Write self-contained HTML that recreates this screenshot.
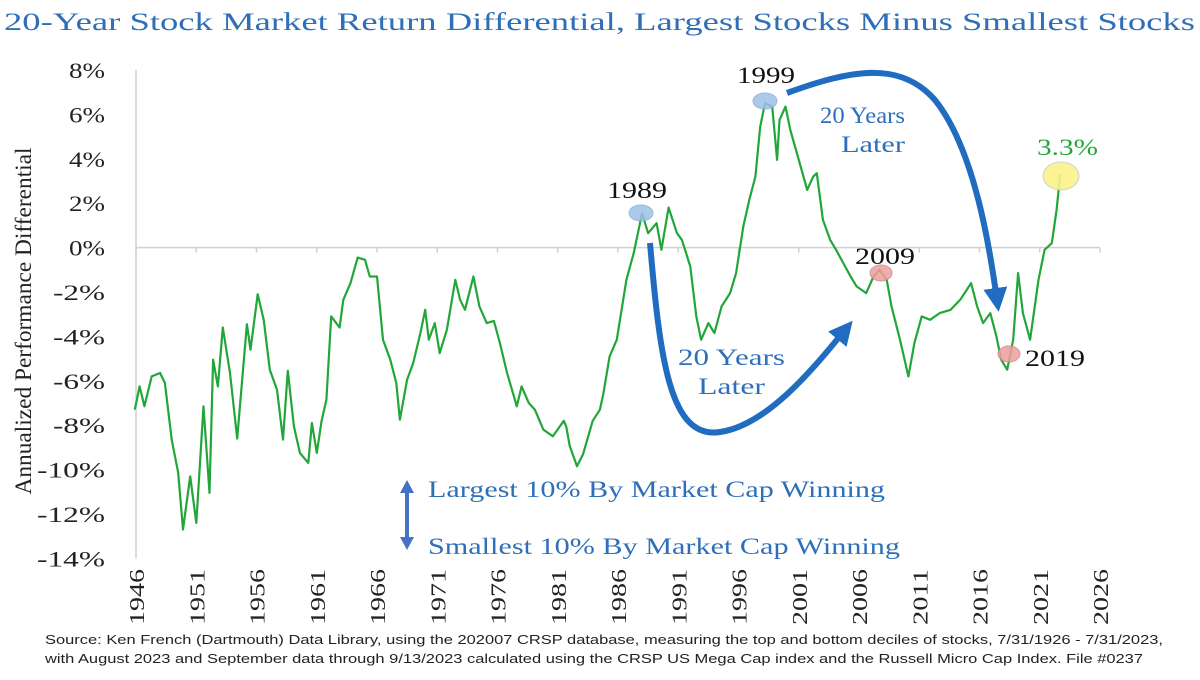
<!DOCTYPE html>
<html><head><meta charset="utf-8"><style>
body{margin:0;background:#fff;width:1200px;height:675px;overflow:hidden}
svg text{font-family:"Liberation Serif",serif}
</style></head><body>
<svg id="c" width="1200" height="675" viewBox="0 0 1200 675">
<text x="4" y="30" font-size="25" fill="#2E6FB8" textLength="1191" lengthAdjust="spacingAndGlyphs">20-Year Stock Market Return Differential, Largest Stocks Minus Smallest Stocks</text>
<text transform="translate(31,321) rotate(-90)" text-anchor="middle" font-size="23" fill="#222" textLength="347" lengthAdjust="spacingAndGlyphs">Annualized Performance Differential</text>
<g id="axes"></g>
<g id="series"></g>
<text x="45" y="644" font-size="12.5" fill="#222" textLength="1118" lengthAdjust="spacingAndGlyphs" style="font-family:'Liberation Sans',sans-serif">Source: Ken French (Dartmouth) Data Library, using the 202007 CRSP database, measuring the top and bottom deciles of stocks, 7/31/1926 - 7/31/2023,</text>
<text x="45" y="663" font-size="12.5" fill="#222" textLength="1098" lengthAdjust="spacingAndGlyphs" style="font-family:'Liberation Sans',sans-serif">with August 2023 and September data through 9/13/2023 calculated using the CRSP US Mega Cap index and the Russell Micro Cap Index. File #0237</text>
</svg>
<script>
const years=[1945.9,1946.3,1946.7,1947.3,1948.0,1948.4,1948.96,1949.5,1949.9,1950.5,1951.0,1951.6,1952.1,1952.4,1952.8,1953.2,1953.8,1954.4,1955.2,1955.5,1956.1,1956.6,1957.1,1957.7,1958.2,1958.6,1959.1,1959.6,1960.3,1960.6,1961.0,1961.4,1961.8,1962.2,1962.9,1963.2,1963.8,1964.4,1965.0,1965.4,1966.0,1966.5,1967.1,1967.6,1967.9,1968.5,1969.0,1969.6,1970.0,1970.3,1970.8,1971.2,1971.8,1972.5,1972.9,1973.3,1974.0,1974.5,1975.1,1975.7,1976.2,1976.8,1977.6,1978.0,1978.6,1979.1,1979.8,1980.6,1981.5,1981.7,1982.0,1982.6,1983.1,1983.9,1984.5,1984.8,1985.3,1985.9,1986.7,1987.3,1988.0,1988.5,1989.2,1989.6,1990.2,1990.9,1991.3,1992.0,1992.5,1992.9,1993.5,1994.0,1994.6,1995.3,1995.8,1996.4,1996.9,1997.4,1997.8,1998.2,1998.8,1999.2,1999.4,1999.9,2000.3,2001.0,2001.7,2002.2,2002.5,2003.0,2003.6,2004.1,2004.7,2005.3,2005.8,2006.6,2007.2,2007.7,2008.3,2008.7,2009.4,2010.1,2010.6,2011.2,2011.9,2012.7,2013.6,2014.4,2015.3,2015.8,2016.3,2016.9,2017.4,2017.8,2018.3,2018.8,2019.2,2019.6,2020.2,2020.9,2021.4,2022.0,2022.4,2022.7];
const diffs=[-7.3,-6.25,-7.15,-5.8,-5.65,-6.1,-8.65,-10.15,-12.7,-10.3,-12.4,-7.15,-11.05,-5.05,-6.25,-3.6,-5.65,-8.6,-3.45,-4.6,-2.1,-3.25,-5.5,-6.4,-8.65,-5.55,-8.05,-9.25,-9.7,-7.9,-9.25,-7.8,-6.85,-3.1,-3.6,-2.35,-1.6,-0.45,-0.55,-1.3,-1.3,-4.15,-5.05,-6.1,-7.75,-5.95,-5.2,-3.85,-2.8,-4.15,-3.4,-4.75,-3.7,-1.45,-2.35,-2.8,-1.3,-2.65,-3.4,-3.3,-4.3,-5.65,-7.15,-6.25,-7.0,-7.3,-8.2,-8.5,-7.8,-8.05,-8.95,-9.85,-9.3,-7.8,-7.3,-6.55,-4.9,-4.15,-1.45,-0.25,1.55,0.65,1.1,-0.1,1.8,0.65,0.35,-0.85,-3.1,-4.15,-3.4,-3.85,-2.65,-2.05,-1.15,0.95,2.15,3.2,5.45,6.5,6.35,3.95,5.75,6.35,5.3,3.95,2.6,3.2,3.35,1.25,0.35,-0.1,-0.7,-1.3,-1.75,-2.05,-1.3,-1.0,-1.45,-2.65,-4.15,-5.8,-4.3,-3.1,-3.25,-2.95,-2.8,-2.35,-1.6,-2.65,-3.4,-2.95,-4.0,-5.05,-5.5,-4.15,-1.15,-2.95,-4.15,-1.45,-0.1,0.2,1.7,3.3];
const yTicks=[8,6,4,2,0,-2,-4,-6,-8,-10,-12,-14];
const xTicks=[1946,1951,1956,1961,1966,1971,1976,1981,1986,1991,1996,2001,2006,2011,2016,2021,2026];
const X=y=>136+(y-1946)*12.05;
const Y=v=>247.6-v*22.2;
const NS="http://www.w3.org/2000/svg";
function mk(t,a,p){const e=document.createElementNS(NS,t);for(const k in a)e.setAttribute(k,a[k]);p.appendChild(e);return e;}
const ax=document.getElementById('axes');
let l=mk('line',{x1:136,x2:136,y1:Y(8),y2:Y(-14),stroke:'#d0d0d0','stroke-width':1.5},ax);


l=mk('line',{x1:136,x2:X(2026),y1:Y(0),y2:Y(0),stroke:'#d0d0d0','stroke-width':1.5},ax);


yTicks.forEach(v=>{const s=v+'%';const t=mk('text',{x:105,y:Y(v)+8,'text-anchor':'end','font-size':22,fill:'#222',textLength:s.length*16+4,lengthAdjust:'spacingAndGlyphs'},ax);t.textContent=s;

});
xTicks.forEach(yr=>{mk('line',{x1:X(yr),x2:X(yr),y1:Y(0),y2:Y(0)+5,stroke:'#d0d0d0','stroke-width':1.5},ax);
const t=mk('text',{transform:`translate(${X(yr)+8},569) rotate(-90)`,'text-anchor':'end','font-size':21,fill:'#222',textLength:56,lengthAdjust:'spacingAndGlyphs'},ax);t.textContent=yr;

});
const s=document.getElementById('series');
const p=mk('path',{d:years.map((y,i)=>(i?'L':'M')+X(y).toFixed(1)+','+Y(diffs[i]).toFixed(1)).join(''),fill:'none',stroke:'#22A63A','stroke-width':2.2,'stroke-linejoin':'round'},s);


</script>
<svg width="1200" height="675" style="position:absolute;left:0;top:0">
<defs><marker id="ah" markerWidth="4" markerHeight="4" refX="2" refY="2" orient="auto"><path d="M0,0L4,2L0,4Z" fill="#1F6CC0"/></marker></defs>
<ellipse cx="641" cy="213" rx="12" ry="8" fill="#9DC0E4" stroke="#8aaed5" opacity="0.85"/>
<ellipse cx="765" cy="101" rx="12" ry="8" fill="#9DC0E4" stroke="#8aaed5" opacity="0.85"/>
<ellipse cx="881" cy="273" rx="11" ry="8" fill="#EE9E9E" stroke="#cc8888" opacity="0.85"/>
<ellipse cx="1009" cy="354" rx="11" ry="8" fill="#EE9E9E" stroke="#cc8888" opacity="0.85"/>
<ellipse cx="1061" cy="176" rx="18" ry="14" fill="#FAF38A" stroke="#ccc" opacity="0.9"/>
<g style="font-family:'Liberation Serif',serif" font-size="23">
<text x="607" y="198" fill="#111" textLength="60" lengthAdjust="spacingAndGlyphs">1989</text>
<text x="737" y="83" fill="#111" textLength="58" lengthAdjust="spacingAndGlyphs">1999</text>
<text x="855" y="264" fill="#111" textLength="60" lengthAdjust="spacingAndGlyphs">2009</text>
<text x="1025" y="366" fill="#111" textLength="60" lengthAdjust="spacingAndGlyphs">2019</text>
<text x="1037" y="155" fill="#22A63A" textLength="61" lengthAdjust="spacingAndGlyphs">3.3%</text>
<text x="820" y="123" fill="#2E6FB8" textLength="85" lengthAdjust="spacingAndGlyphs">20 Years</text>
<text x="841" y="152" fill="#2E6FB8" textLength="64" lengthAdjust="spacingAndGlyphs">Later</text>
<text x="678" y="365" fill="#2E6FB8" textLength="107" lengthAdjust="spacingAndGlyphs">20 Years</text>
<text x="698" y="394" fill="#2E6FB8" textLength="67" lengthAdjust="spacingAndGlyphs">Later</text>
<text x="428" y="497" fill="#2E6FB8" textLength="457" lengthAdjust="spacingAndGlyphs">Largest 10% By Market Cap Winning</text>
<text x="428" y="554" fill="#2E6FB8" textLength="472" lengthAdjust="spacingAndGlyphs">Smallest 10% By Market Cap Winning</text>
</g>
<path d="M650,243 C660,360 670,440 720,432 C770,425 820,360 845,330" fill="none" stroke="#1F6CC0" stroke-width="6" marker-end="url(#ah)"/>
<path d="M787,93 C850,70 900,60 935,100 C975,150 990,250 997,300" fill="none" stroke="#1F6CC0" stroke-width="6" marker-end="url(#ah)"/>
<line x1="407" y1="492" x2="407" y2="538" stroke="#4472C4" stroke-width="4"/>
<path d="M400,493L407,480L414,493Z M400,537L407,550L414,537Z" fill="#4472C4"/>
</svg>
</body></html>
